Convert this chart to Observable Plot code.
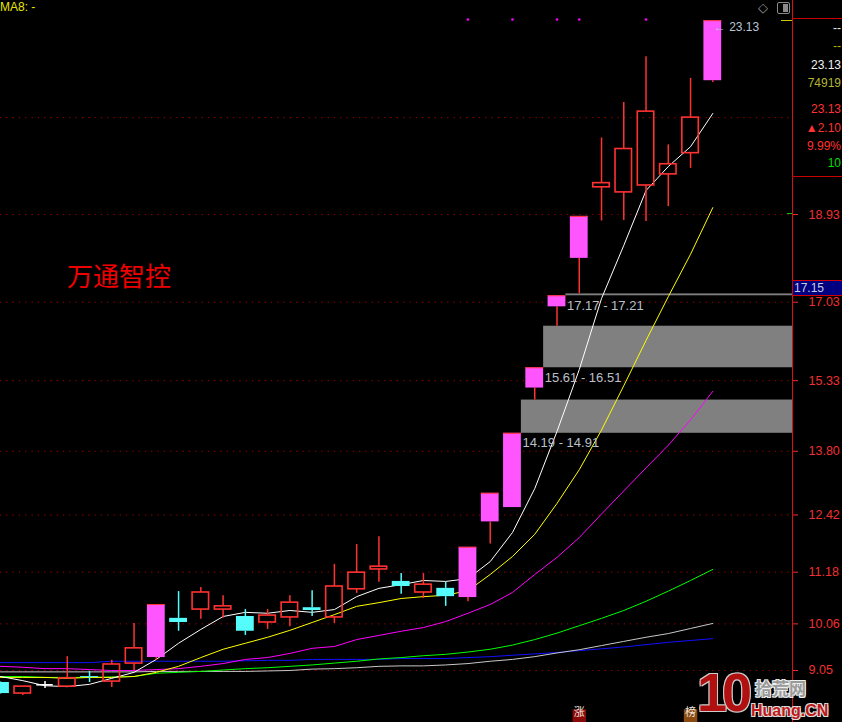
<!DOCTYPE html>
<html><head><meta charset="utf-8">
<script src="https://cdn.jsdelivr.net/npm/d3@7"></script>
<script src="https://cdn.jsdelivr.net/npm/@observablehq/plot@0.6"></script>
<style>
html,body{margin:0;padding:0;background:#000;}
#wrap{position:relative;width:842px;height:722px;overflow:hidden;background:#000;font-family:"Liberation Sans",Arial,sans-serif;}
#chart{position:absolute;left:0;top:0;}
.ov{position:absolute;white-space:nowrap;}
.pr{position:absolute;right:1px;font-size:12px;line-height:14px;text-align:right;white-space:nowrap;}
</style></head><body>
<div id="wrap">
  <div id="chart"></div>
  <div class="ov" style="left:0;top:1px;color:#e6e600;font-size:12px;line-height:13px;">MA8: -</div>
  <div class="ov" style="left:67px;top:262px;color:#f00000;font-family:'Noto Sans CJK SC';font-size:26px;line-height:26px;">万通智控</div>
  <!-- right info panel -->
  <div class="ov" style="left:792px;top:18px;width:50px;height:1px;background:#c80000;"></div>
  <div class="ov" style="left:792px;top:176px;width:50px;height:1px;background:#c80000;"></div>
  <div class="pr" style="top:21px;color:#e8e8e8;">--</div>
  <div class="pr" style="top:39px;color:#b4b400;">--</div>
  <div class="pr" style="top:58px;color:#f0f0f0;">23.13</div>
  <div class="pr" style="top:76px;color:#b4b432;">74919</div>
  <div class="pr" style="top:102px;color:#ff3232;">23.13</div>
  <div class="pr" style="top:121px;color:#ff3232;">▲2.10</div>
  <div class="pr" style="top:139px;color:#ff3232;">9.99%</div>
  <div class="pr" style="top:156px;color:#00dc00;">10</div>
  <!-- top icons -->
  <div class="ov" style="left:758px;top:0px;color:#9a9a9a;font-size:13px;line-height:15px;">◇</div>
  <div class="ov" style="left:777px;top:2px;width:11px;height:10px;border:1px solid #8a8a8a;border-radius:2px;">
    <div style="position:absolute;right:1px;top:1px;width:5px;height:8px;background:#8a8a8a;"></div>
  </div>
  <div class="ov" style="left:781px;top:20px;width:11px;height:1px;background:#c8c800;"></div>
  <div class="ov" style="left:787px;top:213px;width:5px;height:1px;background:#00c800;"></div>
  <!-- crosshair price box -->
  <div class="ov" style="left:792px;top:280px;width:48px;height:14px;background:#000080;border:1px solid #d00000;color:#c8cce0;font-size:12px;line-height:14px;padding-left:1px;">17.15</div>
  <!-- watermark -->
  <div class="ov" style="left:697px;top:664px;font-weight:bold;font-size:54px;line-height:56px;color:#b01010;letter-spacing:-5px;text-shadow:1px 1px 0 #ccc,-1px -1px 0 #ccc,1px -1px 0 #ccc,-1px 1px 0 #ccc;">10</div>
  <div class="ov" style="left:755px;top:679px;font-family:'Noto Sans CJK SC';font-weight:bold;font-size:17px;line-height:17px;color:#9a9a9a;text-shadow:1px 1px 0 #eee,-1px -1px 0 #eee,1px -1px 0 #eee,-1px 1px 0 #eee;">拾荒网</div>
  <div class="ov" style="left:751px;top:703px;font-weight:bold;font-size:16px;line-height:16px;color:#c01818;text-shadow:1px 1px 0 #ddd,-1px -1px 0 #ddd,1px -1px 0 #ddd,-1px 1px 0 #ddd;">Huang.CN</div>
</div>
<script>
// ---- candles ----
const open  = [8.79, 8.55, 8.74, 8.70, 8.92, 8.81, 9.20, 9.33, 10.18, 10.37, 10.37, 10.22, 10.09, 10.20, 10.41, 10.20, 10.81, 11.24, 10.98, 10.74, 10.83, 10.63, 12.27, 12.58, 15.17, 16.93, 17.98, 19.52, 19.41, 19.56, 19.80, 20.26, 21.83];
const close = [8.55, 8.70, 8.74, 8.88, 8.90, 9.18, 9.53, 10.48, 10.09, 10.74, 10.44, 9.90, 10.24, 10.52, 10.35, 10.87, 11.17, 11.30, 10.87, 10.91, 10.65, 11.72, 12.89, 14.19, 15.61, 17.17, 18.89, 19.61, 20.35, 21.16, 20.02, 21.03, 23.13];
const high  = [8.80, 8.70, 8.81, 9.35, 9.03, 9.27, 10.07, 10.48, 10.76, 10.85, 10.67, 10.37, 10.37, 10.67, 10.78, 11.35, 11.78, 11.95, 11.15, 11.15, 10.96, 11.72, 12.89, 14.19, 15.61, 17.17, 18.89, 20.59, 21.36, 22.35, 20.44, 21.88, 23.13];
const low   = [8.54, 8.51, 8.66, 8.70, 8.79, 8.68, 9.05, 9.27, 9.90, 10.16, 10.18, 9.81, 9.94, 10.00, 10.22, 10.07, 10.72, 10.96, 10.70, 10.61, 10.44, 10.54, 11.79, 12.58, 14.91, 16.51, 17.21, 18.79, 18.80, 18.78, 19.10, 19.93, 21.79];

// ---- moving-average lines ----
const maWhite   = [8.92, 8.83, 8.72, 8.70, 8.75, 8.88, 9.01, 9.29, 9.64, 9.94, 10.22, 10.31, 10.29, 10.35, 10.31, 10.37, 10.65, 10.83, 10.91, 11.00, 10.98, 11.04, 11.41, 12.04, 12.99, 14.23, 15.57, 17.11, 18.26, 19.45, 19.97, 20.40, 21.12];
const maYellow  = [8.90, 8.90, 8.90, 8.88, 8.90, 8.90, 8.92, 9.01, 9.14, 9.33, 9.51, 9.64, 9.77, 9.92, 10.09, 10.26, 10.44, 10.52, 10.61, 10.65, 10.68, 10.78, 11.13, 11.52, 12.00, 12.67, 13.40, 14.26, 15.22, 16.20, 17.15, 18.07, 19.08];
const maMagenta = [9.14, 9.12, 9.09, 9.09, 9.07, 9.05, 9.05, 9.07, 9.09, 9.14, 9.20, 9.29, 9.33, 9.42, 9.53, 9.57, 9.72, 9.81, 9.90, 9.98, 10.11, 10.29, 10.48, 10.74, 11.13, 11.50, 11.93, 12.44, 12.94, 13.44, 13.93, 14.48, 15.10];
const maGreen   = [8.92, 8.92, 8.90, 8.90, 8.90, 8.91, 8.92, 8.99, 9.01, 9.03, 9.06, 9.09, 9.11, 9.14, 9.17, 9.21, 9.25, 9.30, 9.33, 9.37, 9.40, 9.45, 9.51, 9.60, 9.72, 9.86, 10.02, 10.18, 10.35, 10.55, 10.77, 11.00, 11.24];
const maGray    = [9.02, 9.02, 9.02, 9.02, 9.02, 9.02, 9.02, 9.03, 9.03, 9.03, 9.03, 9.03, 9.04, 9.05, 9.08, 9.09, 9.11, 9.14, 9.15, 9.15, 9.17, 9.20, 9.25, 9.29, 9.35, 9.43, 9.50, 9.59, 9.68, 9.77, 9.85, 9.96, 10.07];
const maBlue    = [9.22, 9.22, 9.22, 9.22, 9.22, 9.25, 9.25, 9.25, 9.25, 9.25, 9.25, 9.26, 9.27, 9.27, 9.29, 9.29, 9.29, 9.29, 9.31, 9.31, 9.31, 9.33, 9.35, 9.38, 9.41, 9.44, 9.48, 9.52, 9.56, 9.61, 9.66, 9.70, 9.74];

// ---- gaps (unfilled price gaps) ----
const gapCandle = [23, 24, 25];
const gapLow    = [14.19, 15.61, 17.17];
const gapHigh   = [14.91, 16.51, 17.21];

// ---- signal dots / bottom markers ----
const signalIdx = [21, 23, 25, 26, 29];
const markIdx   = [26, 31];
const markText  = ["涨", "榜"];

// ---- axis ticks ----
const yTicks   = [9.05, 10.06, 11.18, 12.42, 13.80, 15.33, 17.03, 18.93];
const gridVals = [9.05, 10.06, 11.18, 12.42, 13.80, 15.33, 17.03, 18.93, 21.03];

const xMax = 35.58;           // slots visible in the frame
const yLo = 7.923, yHi = 23.568;

const n = close.length;
const candles = d3.range(n).map(i => {
  const prev = i > 0 ? close[i - 1] : null;
  let kind;
  if (prev && close[i] / prev >= 1.095) kind = "limit";
  else if (close[i] > open[i]) kind = "up";
  else if (close[i] < open[i]) kind = "down";
  else kind = "flat";
  return {i, open: open[i], close: close[i], high: high[i], low: low[i],
          top: Math.max(open[i], close[i]), bot: Math.min(open[i], close[i]), kind};
});
const col = {up: "#ff3232", down: "#54fcfc", limit: "#ff55ff", flat: "#ffffff"};
const wickCol = d => d.kind === "limit" ? "#ff3232" : col[d.kind];

const series = [
  {name: "blue", color: "#1010ff", v: maBlue},
  {name: "gray", color: "#c8c8c8", v: maGray},
  {name: "green", color: "#00ff00", v: maGreen},
  {name: "magenta", color: "#ff00ff", v: maMagenta},
  {name: "yellow", color: "#ffff00", v: maYellow},
  {name: "white", color: "#ffffff", v: maWhite}
];

const gaps = gapCandle.map((c, k) => ({i: c, lo: gapLow[k], hi: gapHigh[k]}));
const hiIdx = d3.maxIndex(high);
const markers = markIdx.map((c, k) => ({i: c, label: markText[k], bg: k === 0 ? "#8a0808" : "#8a4a12"}));

const marks = [
  Plot.ruleY(gridVals, {stroke: "#a80000", strokeDasharray: "1.2,5.1", strokeWidth: 1}),
  Plot.rect(gaps, {x1: d => d.i + 0.4, x2: () => xMax, y1: "lo", y2: "hi", fill: "#808080"}),
  ...series.map(s => Plot.line(s.v.map((v, i) => ({i, v})), {x: "i", y: "v", stroke: s.color, strokeWidth: 1})),
  // wicks
  Plot.ruleX(candles, {x: "i", y1: "high", y2: "top", stroke: wickCol, strokeWidth: 1.5}),
  Plot.ruleX(candles, {x: "i", y1: "bot", y2: "low", stroke: wickCol, strokeWidth: 1.5}),
  // filled bodies
  Plot.rect(candles.filter(d => d.kind === "down" || d.kind === "limit"),
    {x1: d => d.i - 0.4, x2: d => d.i + 0.4, y1: "bot", y2: "top", fill: d => col[d.kind]}),
  Plot.ruleY(candles.filter(d => d.kind === "limit"),
    {x1: d => d.i - 0.4, x2: d => d.i + 0.4, y: "close", stroke: "#ff3232", strokeWidth: 1}),
  // hollow bodies
  Plot.rect(candles.filter(d => d.kind === "up"),
    {x1: d => d.i - 0.37, x2: d => d.i + 0.37, y1: "bot", y2: "top", fill: "none", stroke: "#ff3232", strokeWidth: 1.6}),
  Plot.ruleY(candles.filter(d => d.kind === "flat"),
    {x1: d => d.i - 0.37, x2: d => d.i + 0.37, y: "close", stroke: "#ffffff", strokeWidth: 1.6}),
  // gap labels
  Plot.text(gaps, {x: d => d.i + 0.45, y: "lo", dy: 10, text: d => `${d.lo.toFixed(2)} - ${d.hi.toFixed(2)}`,
    textAnchor: "start", fill: "#b8c0cc", fontSize: 13}),
  // highest price label
  Plot.text([hiIdx], {x: d => d, y: d => high[d], dx: 1, dy: 6, text: d => `← ${high[d].toFixed(2)}`,
    textAnchor: "start", fill: "#b8c4d4", fontSize: 12}),
  // signal dots at the top
  Plot.dot(signalIdx, {x: d => d, frameAnchor: "top", dy: 19, r: 1.3, fill: "#ff00ff", stroke: "none"}),
  // bottom markers
  Plot.dot(markers, {x: "i", frameAnchor: "bottom", dy: -6.5, symbol: "square", r: 7.6, fill: "bg", stroke: "none"}),
  Plot.text(markers, {x: "i", frameAnchor: "bottom", dy: -6.5, text: "label", fill: "#f0e6dc", fontSize: 11,
    fontFamily: "Noto Sans CJK SC"}),
  // right axis
  Plot.ruleX([xMax], {stroke: "#d81010", strokeWidth: 1}),
  Plot.axisY(yTicks, {anchor: "right", tickSize: 5, tickPadding: 11, tickFormat: d => d.toFixed(2),
    color: "#f03030", fontSize: 12.5, label: null})
];

const chart = Plot.plot({
  width: 842, height: 722,
  marginLeft: 0, marginRight: 50, marginTop: 0, marginBottom: 0,
  x: {domain: [0, xMax], axis: null},
  y: {domain: [yLo, yHi]},
  style: {background: "#000", color: "#f03030", fontFamily: "'Liberation Sans', Arial, sans-serif", overflow: "hidden"},
  marks
});
document.getElementById("chart").appendChild(chart);
</script>
</body></html>
